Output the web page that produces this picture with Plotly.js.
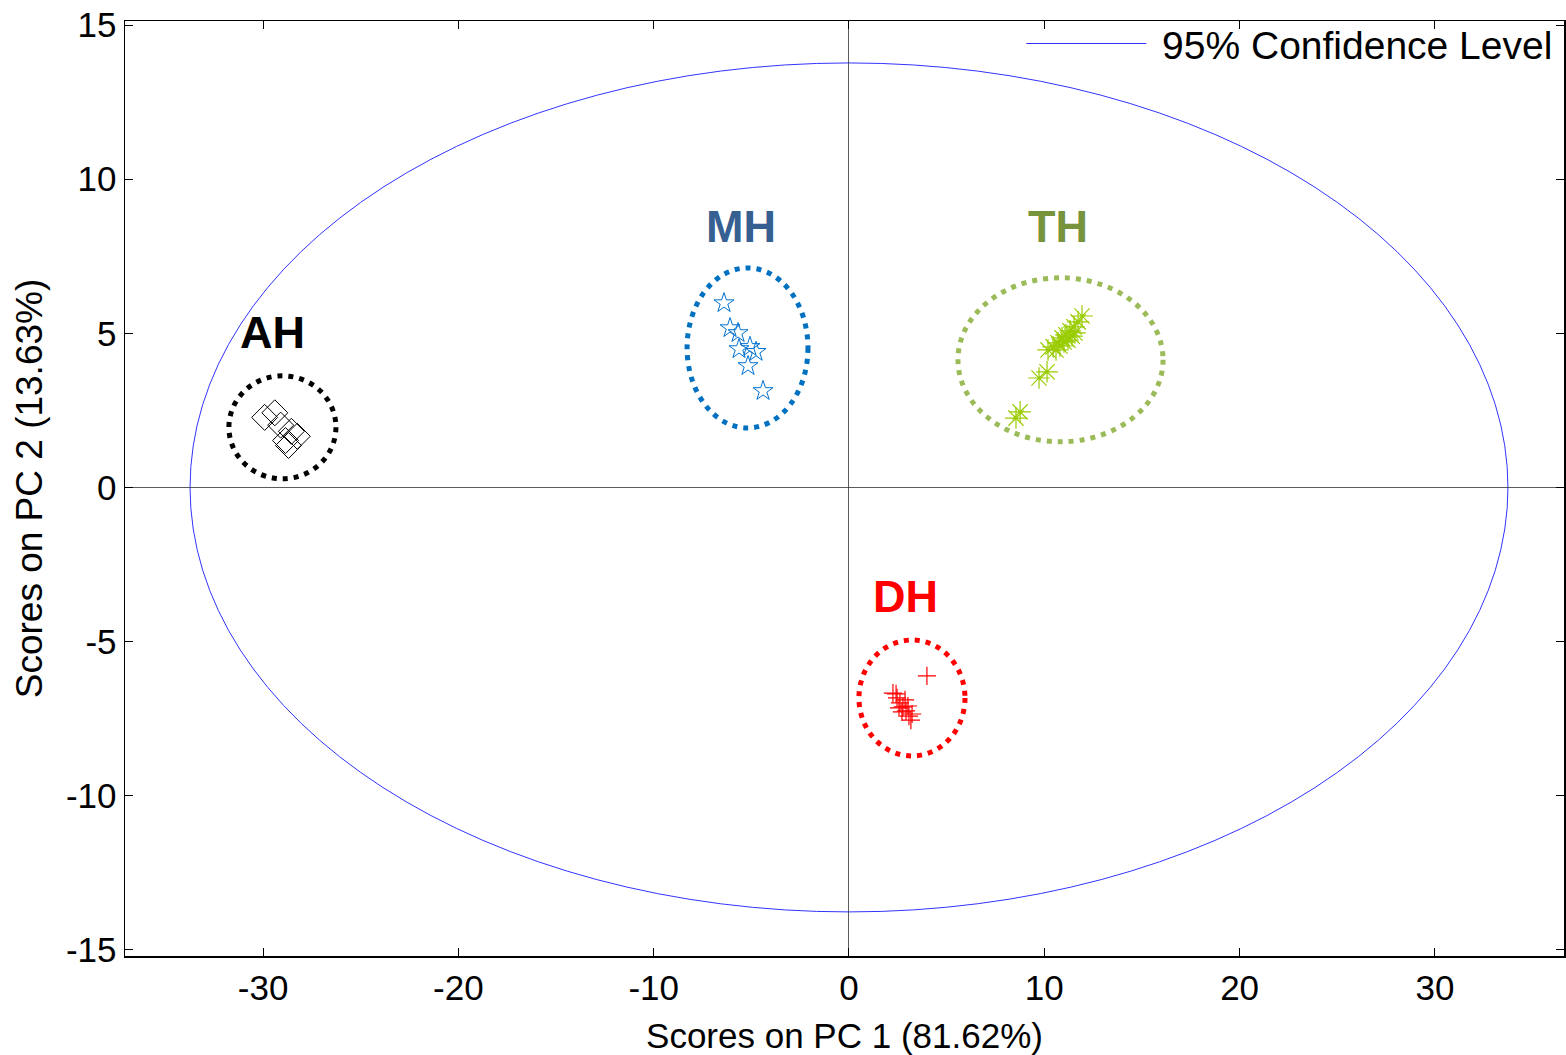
<!DOCTYPE html>
<html>
<head>
<meta charset="utf-8">
<script src="https://cdn.plot.ly/plotly-3.0.1.min.js"></script>
<style>html,body{margin:0;padding:0;background:#fff;}#chart{width:1566px;height:1055px;}</style>
</head>
<body>
<div id="chart"></div>
<script>
// ---- data ----
const ahX = [-29.92, -29.40, -29.10, -28.55, -28.85, -28.25, -28.70];
const ahY = [2.27, 2.42, 2.02, 1.82, 1.52, 1.66, 1.36];

const mhX = [-6.40, -6.09, -5.68, -5.63, -5.07, -4.76, -5.17, -4.40];
const mhY = [5.98, 5.17, 5.01, 4.49, 4.56, 4.40, 3.94, 3.13];

const thX = [8.76, 8.55, 10.14, 9.73, 10.19, 10.45, 10.70, 10.91, 11.11, 11.32, 11.52, 11.73, 11.93, 10.80, 11.21, 11.57, 11.01, 11.42, 10.60];
const thY = [2.45, 2.25, 3.75, 3.55, 4.46, 4.56, 4.69, 4.85, 4.95, 5.08, 5.21, 5.37, 5.56, 4.59, 4.78, 5.01, 4.72, 4.91, 4.46];

const dhX = [3.99, 2.25, 2.46, 2.61, 2.76, 2.92, 3.07, 3.17, 2.56, 2.87, 3.02, 3.23, 2.71, 2.41];
const dhY = [-6.11, -6.67, -6.83, -6.99, -7.12, -7.25, -7.42, -7.55, -7.15, -6.89, -7.09, -7.35, -7.28, -6.70];

// group labels and their positions
const groupNames = ["AH", "MH", "TH", "DH"];
const groupLabelX = [-29.54, -5.53, 10.70, 2.87];
const groupLabelY = [5.01, 8.45, 8.45, -3.55];
const groupColors = ["#000000", "#376092", "#77933c", "#ff0000"];

// dotted group ellipses (x0, x1, y0, y1)
const ringX0 = [-31.75, -8.29, 5.58, 0.51];
const ringX1 = [-26.27, -2.10, 16.08, 5.94];
const ringY0 = [0.28, 1.93, 1.48, -8.71];
const ringY1 = [3.62, 7.12, 6.80, -4.95];
const ringColors = ["#000000", "#0070c0", "#9bbb59", "#ff0000"];

// 95% confidence ellipse semi-axes
const confSemiX = 33.74;
const confSemiY = 13.77;

const xTicks = [-30, -20, -10, 0, 10, 20, 30];
const yTicks = [-15, -10, -5, 0, 5, 10, 15];

const FONT = "Liberation Sans, Arial, sans-serif";

const traces = [
  {x: [null], y: [null], mode: "lines", name: "\u00a095% Confidence Level",
   line: {color: "#3333ff", width: 1}, showlegend: true, hoverinfo: "skip"},
  {x: ahX, y: ahY, mode: "markers", name: "AH", showlegend: false,
   marker: {symbol: "diamond-open", size: 20, color: "#000000", line: {width: 1, color: "#000000"}}},
  {x: mhX, y: mhY, mode: "markers", name: "MH", showlegend: false,
   marker: {symbol: "star-open", size: 15, color: "#0070d0", line: {width: 1, color: "#0070d0"}}},
  {x: thX, y: thY, mode: "markers", name: "TH", showlegend: false,
   marker: {symbol: "asterisk-open", size: 18, color: "#99cc00", line: {width: 1.2, color: "#99cc00"}}},
  {x: dhX, y: dhY, mode: "markers", name: "DH", showlegend: false,
   marker: {symbol: "cross-thin-open", size: 13, color: "#ff0000", line: {width: 1.2, color: "#ff0000"}}}
];

const shapes = [
  {type: "circle", xref: "x", yref: "y", x0: -confSemiX, x1: confSemiX, y0: -confSemiY, y1: confSemiY,
   line: {color: "#3333ff", width: 1}, layer: "below"}
];
for (let i = 0; i < ringX0.length; i++) {
  shapes.push({type: "circle", xref: "x", yref: "y", x0: ringX0[i], x1: ringX1[i], y0: ringY0[i], y1: ringY1[i],
    line: {color: ringColors[i], width: 5, dash: "5px,6px"}});
}

const annotations = groupNames.map((g, i) => ({
  x: groupLabelX[i], y: groupLabelY[i], xref: "x", yref: "y", text: "<b>" + g + "</b>",
  showarrow: false, font: {family: FONT, size: 45, color: groupColors[i]}
}));

const axisCommon = {
  showgrid: false, showline: true, linecolor: "#000", linewidth: 1.5, mirror: "ticks",
  ticks: "inside", ticklen: 8, tickcolor: "#000", tickwidth: 1,
  zeroline: true, zerolinecolor: "#333", zerolinewidth: 0.8,
  tickfont: {family: FONT, size: 35, color: "#000"}
};

const layout = {
  width: 1566, height: 1055,
  margin: {l: 125, r: 2, t: 21, b: 99},
  paper_bgcolor: "#fff", plot_bgcolor: "#fff",
  xaxis: Object.assign({}, axisCommon, {
    range: [-37.07, 36.61], tickvals: xTicks, ticktext: xTicks.map(String),
    title: {text: "Scores on PC 1 (81.62%)", font: {family: FONT, size: 35, color: "#000"}, standoff: 18}
  }),
  yaxis: Object.assign({}, axisCommon, {
    range: [-15.2, 15.13], tickvals: yTicks, ticktext: yTicks.map(String),
    title: {text: "Scores on PC 2 (13.63%)", font: {family: FONT, size: 37, color: "#000"}, standoff: 12}
  }),
  shapes: shapes,
  annotations: annotations,
  showlegend: true,
  legend: {x: 0.996, xanchor: "right", y: 1.01, yanchor: "top", bgcolor: "rgba(0,0,0,0)",
    font: {family: FONT, size: 39, color: "#000"}, itemwidth: 120, itemgap: 0, borderwidth: 0}
};

Plotly.newPlot("chart", traces, layout, {displayModeBar: false, staticPlot: true});
</script>
</body>
</html>
